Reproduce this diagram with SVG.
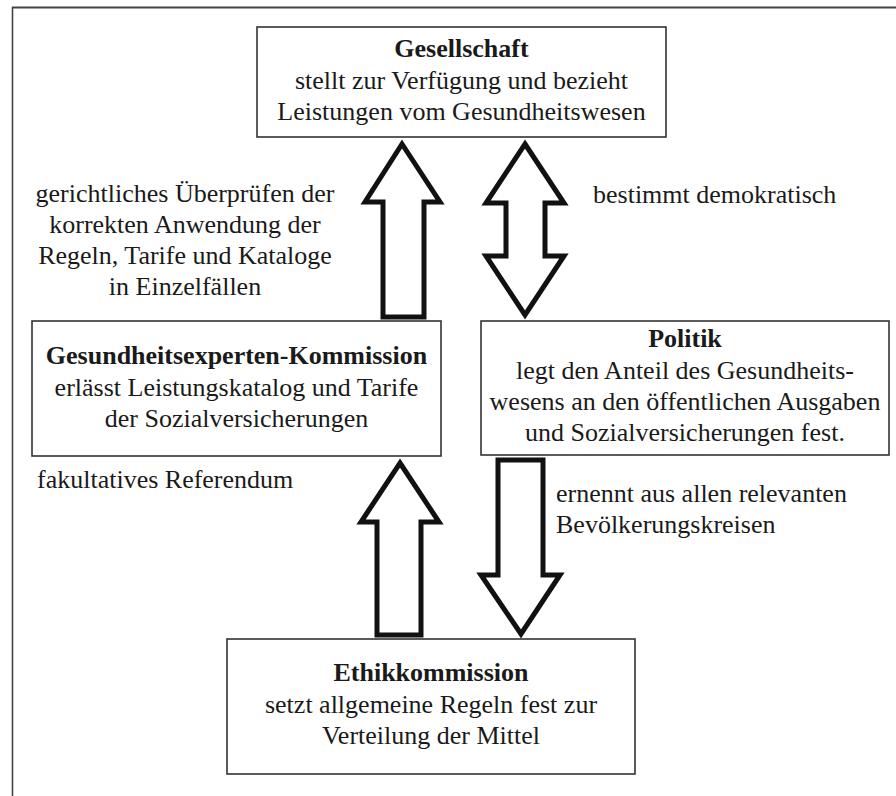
<svg xmlns="http://www.w3.org/2000/svg" width="896" height="796" viewBox="0 0 896 796">
<style>
text{font-family:"Liberation Serif","Times New Roman",serif;font-size:26px;fill:#1a1a1a}
.b{font-weight:bold}
.c{text-anchor:middle}
.box{fill:#fff;stroke:#333;stroke-width:1.6}
.arr{fill:#fff;stroke:#111;stroke-width:5;stroke-linejoin:miter;stroke-miterlimit:10}
.frame{stroke:#444;fill:none}
</style>
<rect width="896" height="796" fill="#fff"/>
<g id="frame">
<line class="frame" x1="12" y1="7.5" x2="896" y2="7.5" stroke-width="2"/>
<line class="frame" x1="12.5" y1="7" x2="12.5" y2="796" stroke-width="1.6"/>
</g>
<g id="connectors">
<path class="arr" d="M402,144 L440,202 L424,202 L424,317 L383,317 L383,202 L365,202 Z"/>
<path class="arr" d="M525,144 L564,203 L545,203 L545,256 L564,256 L525,315 L486,256 L506,256 L506,203 L486,203 Z"/>
<path class="arr" d="M400,463 L439,522 L421,522 L421,635 L377,635 L377,522 L361,522 Z"/>
<path class="arr" d="M498,460 L543,460 L543,575 L560,575 L521,634 L481,575 L498,575 Z"/>
<text x="185" y="202" class="c">gerichtliches Überprüfen der</text>
<text x="185" y="233" class="c">korrekten Anwendung der</text>
<text x="185" y="264" class="c">Regeln, Tarife und Kataloge</text>
<text x="185" y="295" class="c">in Einzelfällen</text>
<text x="593" y="203">bestimmt demokratisch</text>
<text x="37" y="488">fakultatives Referendum</text>
<text x="556" y="502">ernennt aus allen relevanten</text>
<text x="556" y="533">Bevölkerungskreisen</text>
</g>
<g id="gesellschaft">
<rect class="box" x="257" y="27" width="409" height="110"/>
<text x="461.5" y="57" class="c b">Gesellschaft</text>
<text x="461.5" y="89" class="c">stellt zur Verfügung und bezieht</text>
<text x="461.5" y="120" class="c">Leistungen vom Gesundheitswesen</text>
</g>
<g id="experten">
<rect class="box" x="32" y="321" width="409" height="135"/>
<text x="236.5" y="364" class="c b">Gesundheitsexperten-Kommission</text>
<text x="236.5" y="396" class="c">erlässt Leistungskatalog und Tarife</text>
<text x="236.5" y="427" class="c">der Sozialversicherungen</text>
</g>
<g id="politik">
<rect class="box" x="481" y="321" width="408" height="134"/>
<text x="685" y="347" class="c b">Politik</text>
<text x="685" y="379" class="c">legt den Anteil des Gesundheits-</text>
<text x="685" y="410" class="c">wesens an den öffentlichen Ausgaben</text>
<text x="685" y="441" class="c">und Sozialversicherungen fest.</text>
</g>
<g id="ethik">
<rect class="box" x="227" y="639" width="408" height="135"/>
<text x="431" y="681" class="c b">Ethikkommission</text>
<text x="431" y="713" class="c">setzt allgemeine Regeln fest zur</text>
<text x="431" y="744" class="c">Verteilung der Mittel</text>
</g>
</svg>
